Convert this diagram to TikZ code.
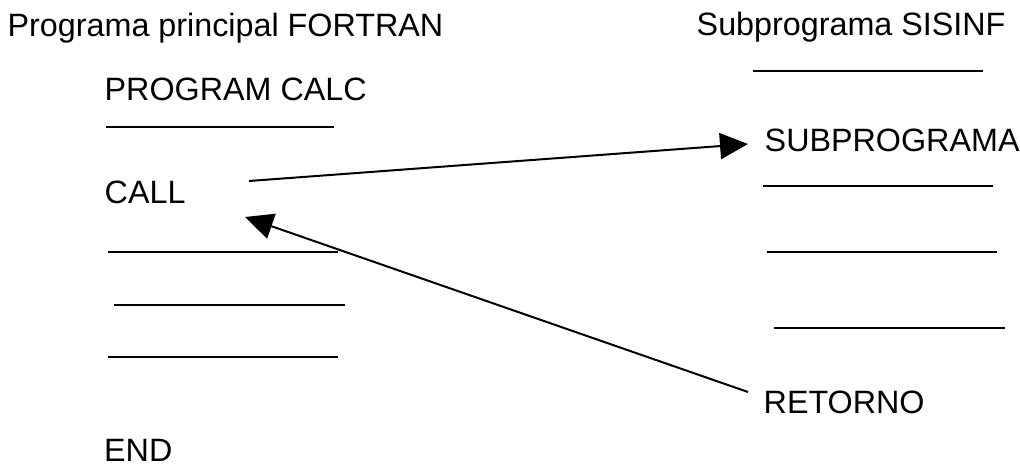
\documentclass[tikz,border=0pt]{standalone}
\usepackage{fontspec}
\setmainfont{Liberation Sans}
\usetikzlibrary{arrows.meta}
\tikzset{
  lbl/.style={anchor=base west, inner sep=0pt, font=\fontsize{32.3}{37}\selectfont},
  rule/.style={line width=2pt},
  flow/.style={line width=2pt, -{Triangle[length=28pt, width=26pt]}}
}
\begin{document}
\begin{tikzpicture}[x=1pt, y=-1pt]
\useasboundingbox (0,0) rectangle (1020,468);
% main program column
\node[lbl] (main)   at (7.5,37)   {Programa principal FORTRAN};
\node[lbl] (prog)   at (104.5,101) {PROGRAM CALC};
\node[lbl] (call)   at (104.5,204) {CALL};
\node[lbl] (end)    at (104,461)  {END};
\draw[rule] (106,127) -- (334,127);
\draw[rule] (108,252) -- (338,252);
\draw[rule] (114,305) -- (345,305);
\draw[rule] (108,357) -- (338,357);
% subprogram column
\node[lbl] (sub)    at (696.5,36)  {Subprograma SISINF};
\node[lbl] (entry)  at (764.5,152) {SUBPROGRAMA};
\node[lbl] (ret)    at (763.5,413) {RETORNO};
\draw[rule] (753,71)  -- (983,71);
\draw[rule] (763,186) -- (993,186);
\draw[rule] (767,252) -- (997,252);
\draw[rule] (774,328) -- (1005,328);
% control transfer
\coordinate (callout) at (249,181);
\coordinate (entryin) at (748,144);
\coordinate (retout)  at (748,392);
\coordinate (callin)  at (245,217);
\draw[flow] (callout) -- (entryin);
\draw[flow] (retout) -- (callin);
\end{tikzpicture}
\end{document}
